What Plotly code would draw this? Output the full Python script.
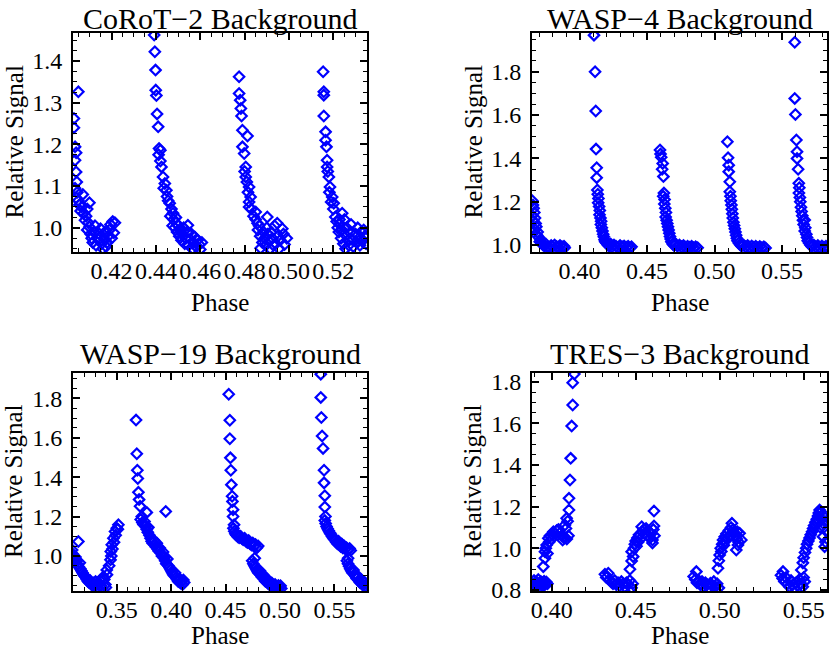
import plotly.graph_objects as go

# phase / relative signal pairs
corot2 = [
    (0.4050, 1.326), (0.4030, 1.262), (0.4030, 1.240), (0.4035, 1.194), (0.4040, 1.180), (0.4035, 1.162),
    (0.4040, 1.134), (0.4043, 1.110), (0.4035, 1.095), (0.4045, 1.085), (0.4040, 1.072), (0.4050, 1.065),
    (0.4055, 1.055), (0.4065, 1.050), (0.4060, 1.040), (0.4075, 1.035), (0.4085, 1.028), (0.4080, 1.018),
    (0.4095, 1.012), (0.4100, 1.002), (0.4090, 0.995), (0.4105, 0.985), (0.4110, 0.975), (0.4120, 0.990),
    (0.4125, 1.005), (0.4115, 0.965), (0.4130, 0.958), (0.4140, 0.972), (0.4145, 0.985), (0.4150, 0.998),
    (0.4155, 0.962), (0.4160, 0.950), (0.4165, 0.975), (0.4170, 0.990), (0.4175, 0.955), (0.4180, 0.965),
    (0.4185, 0.980), (0.4190, 0.995), (0.4195, 1.008), (0.4200, 0.975), (0.4205, 1.015), (0.4210, 0.988),
    (0.4215, 1.012), (0.4090, 1.045), (0.4070, 1.080), (0.4100, 1.060),
    (0.4392, 1.462), (0.4395, 1.422), (0.4398, 1.378), (0.4399, 1.330), (0.4402, 1.317), (0.4405, 1.273),
    (0.4410, 1.242), (0.4414, 1.190), (0.4420, 1.186), (0.4412, 1.175), (0.4425, 1.146), (0.4420, 1.160),
    (0.4432, 1.122), (0.4440, 1.106), (0.4435, 1.095), (0.4447, 1.090), (0.4450, 1.075), (0.4455, 1.065),
    (0.4462, 1.059), (0.4470, 1.045), (0.4477, 1.035), (0.4465, 1.028), (0.4480, 1.020), (0.4490, 1.012),
    (0.4485, 1.000), (0.4495, 0.990), (0.4500, 1.005), (0.4505, 0.980), (0.4510, 0.995), (0.4515, 0.970),
    (0.4520, 0.985), (0.4525, 1.000), (0.4530, 0.962), (0.4535, 0.975), (0.4544, 1.006), (0.4540, 0.990),
    (0.4548, 0.958), (0.4555, 0.972), (0.4560, 0.985), (0.4565, 0.950), (0.4570, 0.965), (0.4575, 0.978),
    (0.4580, 0.955), (0.4588, 0.970), (0.4595, 0.960), (0.4600, 0.948), (0.4607, 0.965), (0.4490, 1.025),
    (0.4475, 1.005),
    (0.4775, 1.362), (0.4775, 1.322), (0.4780, 1.306), (0.4783, 1.286), (0.4786, 1.268), (0.4790, 1.234),
    (0.4813, 1.220), (0.4790, 1.194), (0.4798, 1.178), (0.4805, 1.146), (0.4800, 1.135), (0.4805, 1.122),
    (0.4810, 1.110), (0.4820, 1.098), (0.4815, 1.085), (0.4827, 1.074), (0.4820, 1.062), (0.4820, 1.050),
    (0.4830, 1.045), (0.4850, 1.038), (0.4840, 1.028), (0.4858, 1.011), (0.4850, 1.020), (0.4902, 1.026),
    (0.4947, 1.011), (0.4970, 0.998), (0.4860, 0.995), (0.4870, 0.980), (0.4872, 0.951), (0.4880, 0.965),
    (0.4885, 0.990), (0.4890, 0.975), (0.4895, 0.958), (0.4900, 1.000), (0.4905, 0.985), (0.4910, 0.968),
    (0.4915, 0.950), (0.4920, 0.990), (0.4925, 0.975), (0.4930, 0.958), (0.4935, 1.005), (0.4940, 0.962),
    (0.4950, 0.980), (0.4955, 0.950), (0.4960, 0.970), (0.4975, 0.985), (0.4980, 0.960), (0.4990, 0.975),
    (0.4865, 1.005),
    (0.5154, 1.374), (0.5157, 1.326), (0.5157, 1.318), (0.5157, 1.268), (0.5165, 1.230), (0.5165, 1.210),
    (0.5169, 1.194), (0.5172, 1.162), (0.5172, 1.146), (0.5175, 1.135), (0.5180, 1.122), (0.5185, 1.098),
    (0.5182, 1.085), (0.5195, 1.074), (0.5190, 1.062), (0.5202, 1.059), (0.5200, 1.045), (0.5209, 1.026),
    (0.5240, 1.035), (0.5215, 1.015), (0.5220, 1.000), (0.5225, 0.990), (0.5230, 1.010), (0.5235, 0.975),
    (0.5240, 0.995), (0.5245, 0.962), (0.5250, 0.985), (0.5255, 0.950), (0.5260, 1.000), (0.5265, 0.970),
    (0.5270, 0.958), (0.5275, 0.988), (0.5280, 1.008), (0.5285, 0.972), (0.5290, 0.955), (0.5300, 0.985),
    (0.5305, 0.965), (0.5310, 1.000), (0.5315, 0.975), (0.5320, 0.958), (0.5325, 0.990), (0.5330, 0.968),
    (0.5337, 0.995), (0.5342, 0.978), (0.5348, 0.962), (0.5352, 0.985), (0.5228, 1.020), (0.5250, 1.020),
]

wasp4 = [
    (0.3650, 1.205), (0.3655, 1.185), (0.3660, 1.170), (0.3665, 1.150), (0.3650, 1.135), (0.3670, 1.125),
    (0.3660, 1.110), (0.3675, 1.100), (0.3680, 1.085), (0.3670, 1.070), (0.3690, 1.060), (0.3685, 1.045),
    (0.3700, 1.035), (0.3710, 1.025), (0.3705, 1.015), (0.3720, 1.008), (0.3730, 1.000), (0.3740, 0.995),
    (0.3750, 1.005), (0.3760, 0.992), (0.3775, 0.990), (0.3790, 0.998), (0.3800, 0.992), (0.3815, 1.000),
    (0.3830, 0.993), (0.3845, 0.990), (0.3855, 0.998), (0.3870, 0.992), (0.3885, 0.995), (0.3890, 0.988),
    (0.4107, 1.969), (0.4115, 1.800), (0.4120, 1.619), (0.4122, 1.443), (0.4127, 1.357), (0.4127, 1.311),
    (0.4132, 1.254), (0.4135, 1.235), (0.4140, 1.215), (0.4138, 1.195), (0.4145, 1.178), (0.4150, 1.160),
    (0.4148, 1.140), (0.4155, 1.125), (0.4160, 1.110), (0.4158, 1.095), (0.4165, 1.080), (0.4170, 1.065),
    (0.4175, 1.050), (0.4180, 1.038), (0.4185, 1.025), (0.4190, 1.015), (0.4200, 1.008), (0.4210, 1.000),
    (0.4220, 0.995), (0.4230, 1.005), (0.4240, 0.992), (0.4255, 1.000), (0.4270, 0.995), (0.4285, 0.990),
    (0.4300, 0.998), (0.4315, 0.992), (0.4330, 0.996), (0.4345, 0.990), (0.4360, 0.994), (0.4375, 0.988),
    (0.4385, 0.992),
    (0.4596, 1.439), (0.4600, 1.420), (0.4605, 1.405), (0.4616, 1.377), (0.4612, 1.350), (0.4621, 1.316),
    (0.4625, 1.240), (0.4620, 1.225), (0.4630, 1.210), (0.4628, 1.190), (0.4635, 1.170), (0.4640, 1.150),
    (0.4638, 1.130), (0.4645, 1.115), (0.4650, 1.100), (0.4655, 1.085), (0.4660, 1.070), (0.4665, 1.055),
    (0.4670, 1.040), (0.4675, 1.028), (0.4680, 1.015), (0.4690, 1.005), (0.4700, 0.998), (0.4712, 1.005),
    (0.4725, 0.995), (0.4740, 1.000), (0.4755, 0.992), (0.4770, 0.998), (0.4785, 0.990), (0.4800, 0.995),
    (0.4815, 0.990), (0.4830, 0.994), (0.4845, 0.988), (0.4860, 0.992), (0.4875, 0.988),
    (0.5095, 1.477), (0.5100, 1.403), (0.5105, 1.369), (0.5105, 1.339), (0.5113, 1.292), (0.5113, 1.246),
    (0.5118, 1.225), (0.5120, 1.205), (0.5125, 1.185), (0.5128, 1.165), (0.5132, 1.145), (0.5135, 1.125),
    (0.5140, 1.105), (0.5145, 1.090), (0.5150, 1.075), (0.5155, 1.060), (0.5160, 1.045), (0.5165, 1.032),
    (0.5170, 1.020), (0.5180, 1.010), (0.5190, 1.002), (0.5200, 0.995), (0.5215, 1.000), (0.5230, 0.992),
    (0.5245, 0.998), (0.5260, 0.990), (0.5275, 0.996), (0.5290, 0.990), (0.5305, 0.995), (0.5320, 0.988),
    (0.5335, 0.993), (0.5350, 0.988), (0.5365, 0.992), (0.5378, 0.987),
    (0.5594, 1.936), (0.5594, 1.677), (0.5599, 1.603), (0.5606, 1.485), (0.5611, 1.431), (0.5611, 1.400),
    (0.5619, 1.350), (0.5624, 1.285), (0.5628, 1.265), (0.5625, 1.240), (0.5632, 1.220), (0.5635, 1.200),
    (0.5640, 1.175), (0.5645, 1.155), (0.5650, 1.135), (0.5655, 1.115), (0.5668, 1.116), (0.5660, 1.095),
    (0.5672, 1.080), (0.5668, 1.065), (0.5680, 1.050), (0.5685, 1.035), (0.5690, 1.020), (0.5700, 1.010),
    (0.5710, 1.000), (0.5720, 0.993), (0.5735, 1.000), (0.5750, 0.992), (0.5765, 0.998), (0.5780, 0.990),
    (0.5795, 0.996), (0.5810, 0.990), (0.5825, 0.995), (0.5838, 0.990),
]

wasp19 = [
    (0.3147, 1.073), (0.3090, 1.030), (0.3095, 1.010), (0.3100, 1.000), (0.3105, 0.985), (0.3110, 0.970),
    (0.3120, 0.995), (0.3130, 0.975), (0.3140, 0.958), (0.3150, 0.945), (0.3160, 0.965), (0.3165, 0.935),
    (0.3175, 0.925), (0.3185, 0.915), (0.3195, 0.905), (0.3205, 0.898), (0.3215, 0.890), (0.3225, 0.880),
    (0.3235, 0.872), (0.3245, 0.865), (0.3255, 0.875), (0.3265, 0.858), (0.3275, 0.850), (0.3285, 0.862),
    (0.3295, 0.845), (0.3305, 0.870), (0.3315, 0.855), (0.3325, 0.840), (0.3335, 0.860), (0.3345, 0.875),
    (0.3355, 0.850), (0.3365, 0.835), (0.3377, 0.894), (0.3385, 0.880), (0.3395, 0.855), (0.3400, 0.840),
    (0.3408, 0.929), (0.3410, 0.905), (0.3430, 0.950), (0.3442, 0.980), (0.3445, 1.022), (0.3450, 1.000),
    (0.3454, 1.057), (0.3460, 1.035), (0.3469, 1.090), (0.3475, 1.070), (0.3484, 1.124), (0.3490, 1.105),
    (0.3500, 1.140), (0.3515, 1.158), (0.3510, 1.135),
    (0.3677, 1.690), (0.3684, 1.519), (0.3689, 1.435), (0.3693, 1.393), (0.3699, 1.323), (0.3705, 1.286),
    (0.3714, 1.252), (0.3776, 1.221), (0.3730, 1.200), (0.3950, 1.226), (0.3720, 1.185), (0.3735, 1.170),
    (0.3745, 1.160), (0.3755, 1.175), (0.3765, 1.150), (0.3775, 1.135), (0.3785, 1.120), (0.3790, 1.145),
    (0.3800, 1.105), (0.3810, 1.090), (0.3820, 1.075), (0.3830, 1.065), (0.3840, 1.080), (0.3850, 1.055),
    (0.3860, 1.045), (0.3868, 1.065), (0.3875, 1.035), (0.3885, 1.025), (0.3895, 1.040), (0.3905, 1.015),
    (0.3915, 1.000), (0.3925, 1.020), (0.3935, 0.990), (0.3945, 0.975), (0.3955, 0.960), (0.3965, 0.985),
    (0.3975, 0.950), (0.3985, 0.940), (0.3995, 0.930), (0.4005, 0.920), (0.4015, 0.910), (0.4025, 0.900),
    (0.4035, 0.915), (0.4045, 0.890), (0.4055, 0.880), (0.4065, 0.870), (0.4075, 0.885), (0.4085, 0.862),
    (0.4095, 0.870), (0.4105, 0.855), (0.4112, 0.878), (0.4120, 0.865),
    (0.4529, 1.821), (0.4539, 1.689), (0.4539, 1.595), (0.4544, 1.498), (0.4548, 1.435), (0.4553, 1.362),
    (0.4560, 1.303), (0.4563, 1.277), (0.4569, 1.235), (0.4569, 1.200), (0.4578, 1.158), (0.4572, 1.140),
    (0.4580, 1.125), (0.4590, 1.112), (0.4600, 1.105), (0.4612, 1.098), (0.4625, 1.092), (0.4638, 1.100),
    (0.4650, 1.088), (0.4662, 1.082), (0.4675, 1.090), (0.4688, 1.075), (0.4700, 1.068), (0.4712, 1.078),
    (0.4725, 1.062), (0.4738, 1.055), (0.4750, 1.065), (0.4762, 1.048), (0.4775, 1.058), (0.4788, 1.042),
    (0.4800, 1.050), (0.4768, 0.988), (0.4745, 0.975), (0.4755, 0.960), (0.4765, 0.950), (0.4775, 0.940),
    (0.4785, 0.930), (0.4795, 0.920), (0.4805, 0.912), (0.4815, 0.925), (0.4825, 0.902), (0.4835, 0.892),
    (0.4845, 0.905), (0.4855, 0.882), (0.4865, 0.872), (0.4875, 0.885), (0.4885, 0.865), (0.4895, 0.858),
    (0.4905, 0.870), (0.4915, 0.850), (0.4925, 0.862), (0.4935, 0.845), (0.4945, 0.838), (0.4955, 0.855),
    (0.4965, 0.842), (0.4975, 0.832), (0.4985, 0.850), (0.4995, 0.840), (0.5005, 0.848), (0.5012, 0.835),
    (0.5375, 1.923), (0.5375, 1.805), (0.5380, 1.703), (0.5387, 1.609), (0.5396, 1.546), (0.5405, 1.435),
    (0.5405, 1.371), (0.5412, 1.306), (0.5412, 1.248), (0.5418, 1.200), (0.5412, 1.180), (0.5420, 1.165),
    (0.5428, 1.150), (0.5438, 1.138), (0.5448, 1.128), (0.5458, 1.118), (0.5468, 1.110), (0.5478, 1.100),
    (0.5488, 1.092), (0.5498, 1.085), (0.5508, 1.078), (0.5518, 1.070), (0.5528, 1.062), (0.5538, 1.075),
    (0.5548, 1.055), (0.5558, 1.048), (0.5568, 1.060), (0.5578, 1.040), (0.5590, 1.050), (0.5600, 1.035),
    (0.5612, 1.042), (0.5625, 1.030), (0.5640, 1.038), (0.5650, 1.028), (0.5626, 0.988), (0.5615, 0.975),
    (0.5625, 0.960), (0.5635, 0.948), (0.5645, 0.935), (0.5655, 0.925), (0.5665, 0.915), (0.5675, 0.928),
    (0.5685, 0.905), (0.5695, 0.895), (0.5705, 0.885), (0.5715, 0.898), (0.5725, 0.875), (0.5735, 0.865),
    (0.5745, 0.880), (0.5755, 0.858), (0.5765, 0.850), (0.5775, 0.868), (0.5785, 0.845), (0.5795, 0.838),
    (0.5805, 0.855),
]

tres3 = [
    (0.3885, 0.830), (0.3890, 0.815), (0.3895, 0.845), (0.3900, 0.825), (0.3905, 0.810), (0.3910, 0.838),
    (0.3915, 0.820), (0.3920, 0.850), (0.3925, 0.830), (0.3930, 0.812), (0.3935, 0.840), (0.3940, 0.822),
    (0.3945, 0.835), (0.3950, 0.818), (0.3955, 0.842), (0.3960, 0.828), (0.3968, 0.838), (0.3975, 0.830),
    (0.3950, 0.912), (0.3960, 0.952), (0.3960, 0.984), (0.3970, 1.016), (0.3965, 1.000), (0.3975, 0.975),
    (0.3980, 1.048), (0.3985, 1.030), (0.3990, 1.060), (0.4000, 1.045), (0.4010, 1.080), (0.4005, 1.065),
    (0.4020, 1.070), (0.4030, 1.085), (0.4040, 1.090), (0.4050, 1.075), (0.4060, 1.060), (0.4070, 1.056),
    (0.4065, 1.040), (0.4075, 1.050), (0.4079, 1.112), (0.4085, 1.095), (0.4089, 1.144), (0.4095, 1.130),
    (0.4103, 1.184), (0.4103, 1.240), (0.4109, 1.328), (0.4113, 1.432), (0.4119, 1.587), (0.4125, 1.688),
    (0.4125, 1.795), (0.4135, 1.837), (0.4100, 1.060), (0.4090, 1.045),
    (0.4317, 0.875), (0.4325, 0.860), (0.4337, 0.880), (0.4345, 0.850), (0.4355, 0.838), (0.4365, 0.830),
    (0.4375, 0.845), (0.4385, 0.825), (0.4395, 0.835), (0.4405, 0.820), (0.4415, 0.840), (0.4425, 0.830),
    (0.4435, 0.815), (0.4445, 0.835), (0.4455, 0.825), (0.4465, 0.845), (0.4475, 0.810), (0.4482, 0.830),
    (0.4466, 0.899), (0.4476, 0.939), (0.4476, 0.984), (0.4485, 0.960), (0.4490, 1.000), (0.4495, 1.020),
    (0.4500, 1.035), (0.4505, 1.010), (0.4510, 1.050), (0.4515, 1.030), (0.4520, 1.065), (0.4528, 1.045),
    (0.4536, 1.104), (0.4540, 1.080), (0.4548, 1.090), (0.4555, 1.070), (0.4562, 1.095), (0.4570, 1.060),
    (0.4578, 1.080), (0.4585, 1.050), (0.4592, 1.070), (0.4600, 1.040), (0.4605, 1.090), (0.4609, 1.107),
    (0.4609, 1.179), (0.4600, 1.025), (0.4612, 1.060),
    (0.4861, 0.888), (0.4845, 0.865), (0.4855, 0.850), (0.4865, 0.835), (0.4875, 0.845), (0.4885, 0.825),
    (0.4895, 0.840), (0.4905, 0.818), (0.4915, 0.835), (0.4925, 0.825), (0.4935, 0.810), (0.4945, 0.832),
    (0.4955, 0.820), (0.4965, 0.840), (0.4975, 0.815), (0.4985, 0.830), (0.4995, 0.810),
    (0.4990, 0.904), (0.5000, 0.968), (0.4995, 0.940), (0.5006, 1.000), (0.5010, 0.985), (0.5015, 1.020),
    (0.5020, 1.040), (0.5025, 1.015), (0.5030, 1.055), (0.5035, 1.035), (0.5040, 1.070), (0.5048, 1.050),
    (0.5055, 1.085), (0.5062, 1.065), (0.5068, 1.100), (0.5073, 1.120), (0.5080, 1.090), (0.5088, 1.075),
    (0.5095, 1.060), (0.5102, 1.045), (0.5109, 1.016), (0.5119, 1.072), (0.5112, 1.030), (0.5105, 1.080),
    (0.5099, 0.992), (0.5129, 1.040),
    (0.5377, 0.888), (0.5365, 0.870), (0.5375, 0.855), (0.5385, 0.840), (0.5395, 0.860), (0.5405, 0.830),
    (0.5415, 0.815), (0.5425, 0.845), (0.5435, 0.825), (0.5445, 0.810), (0.5455, 0.835), (0.5465, 0.820),
    (0.5475, 0.850), (0.5485, 0.830), (0.5495, 0.815), (0.5500, 0.860), (0.5506, 0.840),
    (0.5486, 0.896), (0.5495, 0.930), (0.5500, 0.955), (0.5508, 0.980), (0.5515, 1.000), (0.5520, 1.020),
    (0.5528, 1.035), (0.5535, 1.050), (0.5542, 1.065), (0.5550, 1.080), (0.5556, 1.095), (0.5562, 1.110),
    (0.5570, 1.125), (0.5578, 1.140), (0.5585, 1.155), (0.5590, 1.170), (0.5595, 1.184), (0.5602, 1.175),
    (0.5610, 1.160), (0.5608, 1.140), (0.5615, 1.120), (0.5620, 1.100), (0.5615, 1.056), (0.5625, 1.008),
    (0.5630, 1.030), (0.5635, 1.128), (0.5638, 1.080), (0.5600, 1.100), (0.5590, 1.130),
]

titles = ["CoRoT\u22122 Background", "WASP\u22124 Background", "WASP\u221219 Background", "TRES\u22123 Background"]

FONT = "Liberation Serif"

panels = [
    # data, x domain, y domain, x range, y range, x dtick, x minor, y dtick, y minor, title shift, phase shift
    (corot2, [0.0880, 0.4422], [0.6117, 0.9492], [0.4026, 0.5352], [0.942, 1.467], 0.02, 0.005, 0.1, 0.025, -3, -50),
    (wasp4, [0.6410, 0.9964], [0.6117, 0.9492], [0.3648, 0.5833], [0.968, 1.979], 0.05, 0.01, 0.2, 0.05, -3, -50),
    (wasp19, [0.0880, 0.4422], [0.0894, 0.4253], [0.3098, 0.5800], [0.822, 1.929], 0.05, 0.01, 0.2, 0.05, 2, -45),
    (tres3, [0.6410, 0.9964], [0.0894, 0.4253], [0.3883, 0.5639], [0.795, 1.842], 0.05, 0.01, 0.2, 0.05, 2, -45),
]

fig = go.Figure()
annotations = []
label_font = dict(family=FONT, size=25, color="black")

for i, (pts, xdom, ydom, xr, yr, xdt, xmn, ydt, ymn, tshift, pshift) in enumerate(panels):
    n = "" if i == 0 else str(i + 1)
    px, py = zip(*pts)
    fig.add_trace(go.Scatter(
        x=px, y=py, mode="markers", xaxis="x" + n, yaxis="y" + n,
        marker=dict(symbol="diamond-open", size=8, color="#0000ff", line=dict(width=2.2, color="#0000ff")),
        cliponaxis=True, showlegend=False,
    ))
    common = dict(
        showline=True, linecolor="black", linewidth=2, mirror="allticks",
        ticks="inside", ticklen=7, tickwidth=1.5, tickcolor="black",
        showgrid=False, zeroline=False,
        tickfont=dict(family=FONT, size=24, color="black"),
    )
    fig.layout["xaxis" + n] = dict(
        common, domain=xdom, range=xr, anchor="y" + n, dtick=xdt, tick0=0,
        tickformat=".2f", ticklabelstandoff=-4,
        minor=dict(dtick=xmn, ticks="inside", ticklen=4, tickcolor="black", tickwidth=1),
    )
    fig.layout["yaxis" + n] = dict(
        common, domain=ydom, range=yr, anchor="x" + n, dtick=ydt, tick0=0,
        tickformat=".1f", ticklabelstandoff=4,
        minor=dict(dtick=ymn, ticks="inside", ticklen=4, tickcolor="black", tickwidth=1),
    )
    # panel title
    annotations.append(dict(
        text=titles[i], xref="paper", yref="paper", x=(xdom[0] + xdom[1]) / 2, y=ydom[1],
        xanchor="center", yanchor="bottom", yshift=tshift, showarrow=False, borderpad=0,
        font=dict(family=FONT, size=30, color="black"),
    ))
    # x axis title
    annotations.append(dict(
        text="Phase", xref="paper", yref="paper", x=(xdom[0] + xdom[1]) / 2, y=ydom[0],
        xanchor="center", yanchor="middle", yshift=pshift, showarrow=False, borderpad=0,
        font=label_font,
    ))
    # y axis title
    annotations.append(dict(
        text="Relative Signal", xref="paper", yref="paper", x=xdom[0], y=(ydom[0] + ydom[1]) / 2,
        xanchor="center", yanchor="middle", xshift=-59, textangle=-90, showarrow=False,
        borderpad=0, font=label_font,
    ))

fig.update_layout(
    width=830, height=649,
    margin=dict(l=0, r=0, t=0, b=0, autoexpand=False),
    paper_bgcolor="white", plot_bgcolor="white",
    annotations=annotations,
)

# drop the default page margin so the figure sits at the window's corner
fig.write_html("out.html", config={"displayModeBar": False},
               post_script="document.body.style.margin='0px';")
